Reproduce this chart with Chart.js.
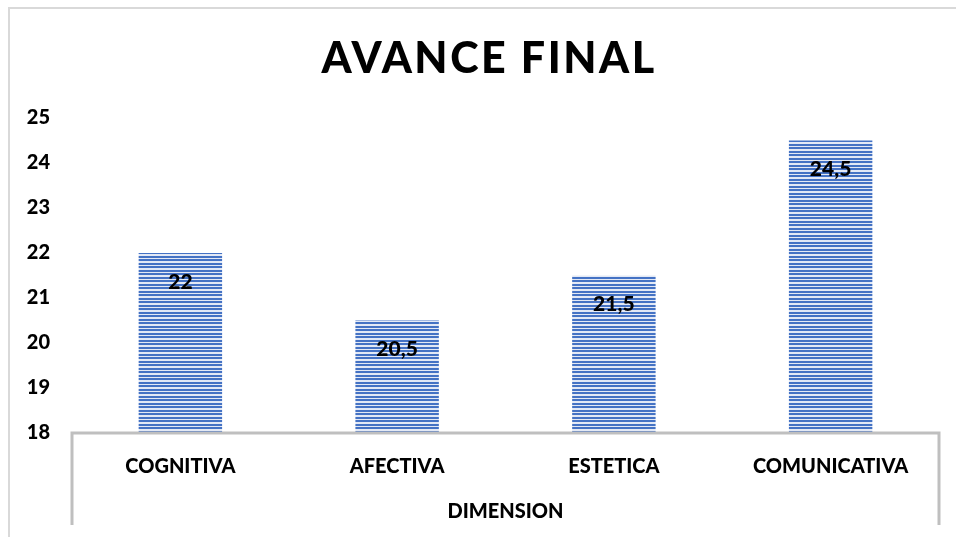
<!DOCTYPE html>
<html>
<head>
<meta charset="utf-8">
<script src="https://cdn.jsdelivr.net/npm/chart.js@4/dist/chart.umd.min.js"></script>
<style>
  html,body{margin:0;padding:0;background:#fff;}
  canvas{display:block;}
</style>
</head>
<body>
<canvas id="chart" width="956" height="537"></canvas>
<script>
const categories=["COGNITIVA","AFECTIVA","ESTETICA","COMUNICATIVA"]
const values=[22,20.5,21.5,24.5]
const yTicks=[18,19,20,21,22,23,24,25]
const chartTitle="AVANCE FINAL"
const axisTitle="DIMENSION"

const FONT="Lato"
const W="900"

function stripes(){
  const c=document.createElement("canvas")
  c.width=4
  c.height=7
  const g=c.getContext("2d")
  g.fillStyle="#e3e9f5"
  g.fillRect(0,0,4,7)
  g.fillStyle="#4472c4"
  g.fillRect(0,0,4,2)
  g.fillRect(0,4,4,2)
  return g.createPattern(c,"repeat")
}

const fmt=v=>String(v).replace(".",",")

const framePlugin={
  id:"frame",
  beforeDraw(chart){
    const ctx=chart.ctx
    ctx.save()
    // outer chart frame
    ctx.strokeStyle="#d9d9d9"
    ctx.lineWidth=2
    ctx.beginPath()
    ctx.moveTo(9,537)
    ctx.lineTo(9,8)
    ctx.lineTo(956,8)
    ctx.stroke()
    // title
    ctx.fillStyle="#000"
    ctx.font=W+" 43px "+FONT
    ctx.letterSpacing="2.5px"
    ctx.textAlign="center"
    ctx.textBaseline="middle"
    ctx.fillText(chartTitle,489,59)
    ctx.restore()
  },
  afterDraw(chart){
    const ctx=chart.ctx
    const a=chart.chartArea
    ctx.save()
    ctx.strokeStyle="#bfbfbf"
    ctx.lineWidth=3
    ctx.beginPath()
    ctx.moveTo(a.left,525)
    ctx.lineTo(a.left,a.bottom)
    ctx.lineTo(a.right,a.bottom)
    ctx.lineTo(a.right,525)
    ctx.stroke()
    // value labels
    ctx.fillStyle="#000"
    ctx.font=W+" 21px "+FONT
    ctx.textAlign="center"
    ctx.textBaseline="middle"
    chart.getDatasetMeta(0).data.forEach((bar,i)=>{
      ctx.fillText(fmt(values[i]),bar.x,bar.y+29)
    })
    ctx.restore()
  }
}

new Chart(document.getElementById("chart"),{
  type:"bar",
  data:{
    labels:categories,
    datasets:[{
      data:values,
      backgroundColor:stripes(),
      borderWidth:0,
      categoryPercentage:1,
      barPercentage:0.385
    }]
  },
  options:{
    responsive:false,
    animation:false,
    layout:{padding:{top:118,left:10,right:17,bottom:0}},
    plugins:{
      legend:{display:false},
      tooltip:{enabled:false}
    },
    scales:{
      x:{
        grid:{display:false,drawTicks:false},
        border:{display:false},
        ticks:{color:"#000",padding:22,font:{family:FONT,size:20,weight:W}},
        title:{display:true,text:axisTitle,color:"#000",padding:{top:4,bottom:13},font:{family:FONT,size:20,weight:W}},
        afterFit(s){s.height=104}
      },
      y:{
        min:18,
        max:25,
        afterBuildTicks(s){s.ticks=yTicks.map(v=>({value:v}))},
        grid:{display:false,drawTicks:false},
        border:{display:false},
        ticks:{color:"#000",padding:22,font:{family:FONT,size:20,weight:W}},
        afterFit(s){s.width=62}
      }
    }
  },
  plugins:[framePlugin]
})
</script>
</body>
</html>
